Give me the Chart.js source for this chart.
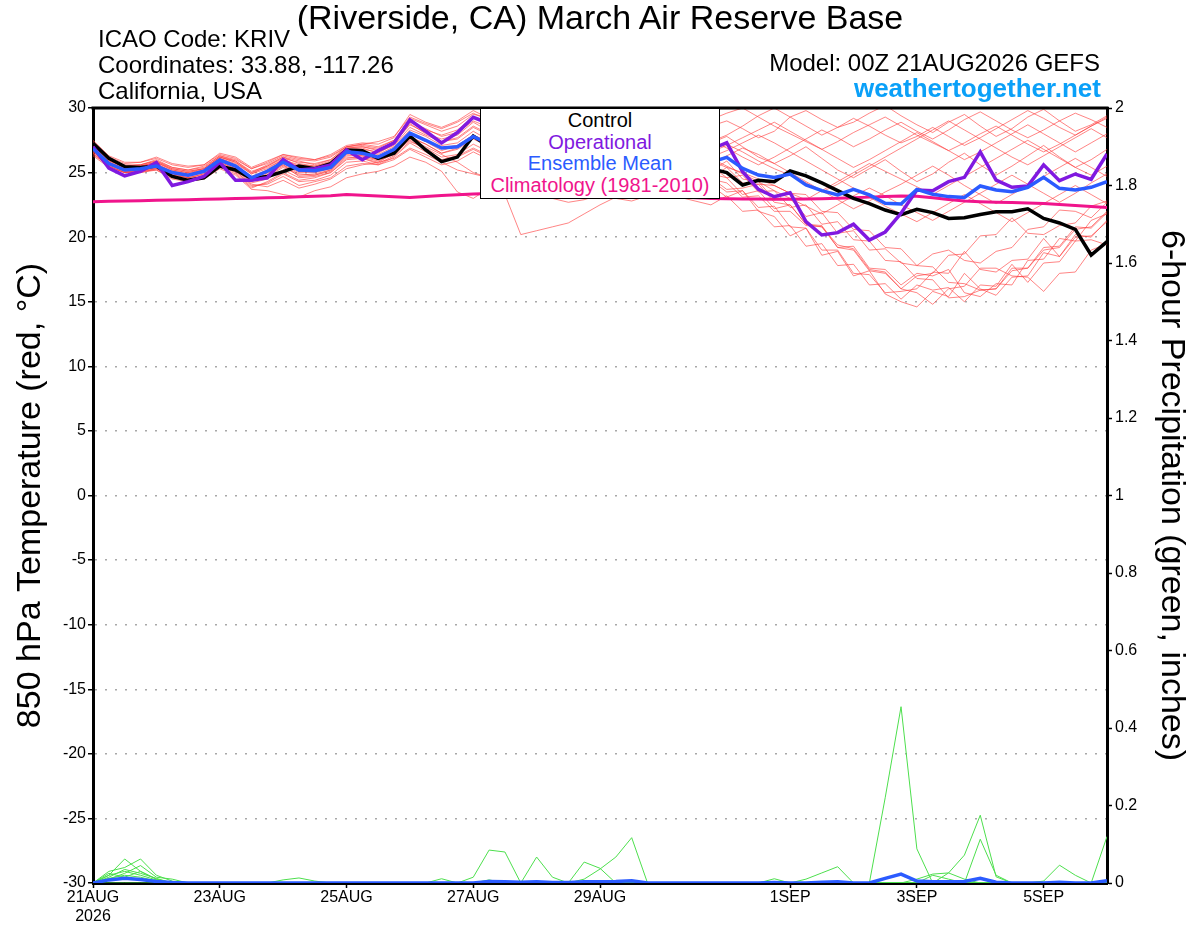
<!DOCTYPE html>
<html>
<head>
<meta charset="utf-8">
<title>KRIV GEFS 850 hPa Temperature</title>
<script src="https://cdn.jsdelivr.net/npm/chart.js@4.4.1/dist/chart.umd.min.js"></script>
<style>
  html, body { margin: 0; padding: 0; background: #fff; }
  #wrap { position: relative; width: 1200px; height: 927px; overflow: hidden;
          font-family: 'Liberation Sans', Arial, Helvetica, sans-serif; }
  #chart { position: absolute; left: 0; top: 0; }
  .txt { position: absolute; white-space: nowrap; color: #000; }
  #title { left: 0; width: 1200px; top: 0; text-align: center; font-size: 34px; line-height: 34px; }
  .info { left: 98px; font-size: 24px; line-height: 24px; }
  .model { right: 100px; font-size: 24px; line-height: 24px; }
  #site { right: 99px; top: 75px; font-size: 26px; line-height: 26px; font-weight: bold; color: #0aa0f8; }
  #legend { position: absolute; left: 480px; top: 108px; width: 240px; height: 91px; box-sizing: border-box;
            border: 1px solid #000; background: #fff; padding-top: 1px; }
  #legend div { font-size: 20px; line-height: 21.5px; text-align: center; white-space: nowrap; }
</style>
</head>
<body>
<div id="wrap">
  <canvas id="chart" width="1200" height="927"></canvas>
  <div class="txt" id="title">(Riverside, CA) March Air Reserve Base</div>
  <div class="txt info" style="top:27px">ICAO Code: KRIV</div>
  <div class="txt info" style="top:53px">Coordinates: 33.88, -117.26</div>
  <div class="txt info" style="top:79px">California, USA</div>
  <div class="txt model" style="top:51px">Model: 00Z 21AUG2026 GEFS</div>
  <div class="txt" id="site">weathertogether.net</div>
  <div id="legend">
    <div style="color:#000000">Control</div>
    <div style="color:#8019e0">Operational</div>
    <div style="color:#2b5bff">Ensemble Mean</div>
    <div style="color:#f0148c">Climatology (1981-2010)</div>
  </div>
</div>
<script>
// Forecast hours (6-hourly, 00Z 21AUG2026 to 00Z 06SEP2026)
const forecastHours = [
    0, 6, 12, 18, 24, 30, 36, 42, 48, 54, 60, 66, 72,
    78, 84, 90, 96, 102, 108, 114, 120, 126, 132, 138, 144, 150,
    156, 162, 168, 174, 180, 186, 192, 198, 204, 210, 216, 222, 228,
    234, 240, 246, 252, 258, 264, 270, 276, 282, 288, 294, 300, 306,
    312, 318, 324, 330, 336, 342, 348, 354, 360, 366, 372, 378, 384
];

// X tick labels
const xTickHours = [0, 48, 96, 144, 192, 264, 312, 360];
const xTickLabels = [['21AUG', '2026'], '23AUG', '25AUG', '27AUG', '29AUG', '1SEP', '3SEP', '5SEP'];

// 850 hPa temperature (C)
const controlTemp = [
    27.27, 26.1, 25.46, 25.4, 25.5, 24.7, 24.4, 24.6, 25.5, 25.2, 24.55, 24.7, 25.07,
    25.5, 25.3, 25.7, 26.75, 26.7, 26.1, 26.5, 27.83, 26.75, 25.85, 26.2, 27.83, 27.0,
    27.4, 26.9, 26.4, 26.0, 26.3, 26.7, 26.2, 25.8, 26.1, 25.7, 25.4, 25.8, 25.5,
    25.3, 25.0, 24.04, 24.4, 24.3, 25.12, 24.74, 24.2, 23.6, 23.0, 22.6, 22.1, 21.75,
    22.16, 21.9, 21.45, 21.5, 21.75, 21.97, 21.97, 22.2, 21.45, 21.1, 20.6, 18.62, 19.65
];
const operationalTemp = [
    27.0, 25.35, 24.75, 25.1, 25.77, 24.0, 24.3, 24.7, 25.8, 24.4, 24.4, 24.6, 26.0,
    25.2, 25.3, 25.6, 26.75, 26.0, 26.7, 27.3, 29.07, 28.2, 27.3, 28.1, 29.28, 28.8,
    28.3, 27.8, 27.4, 27.0, 27.3, 27.6, 27.1, 26.7, 27.0, 26.6, 26.3, 26.7, 26.4,
    26.8, 27.32, 25.07, 23.7, 23.13, 23.44, 21.2, 20.17, 20.35, 21.0, 19.78, 20.4, 21.85,
    23.65, 23.6, 24.3, 24.63, 26.6, 24.42, 23.86, 23.96, 25.6, 24.37, 24.89, 24.48, 26.44
];
const ensembleMeanTemp = [
    26.85, 25.7, 25.2, 25.3, 25.5, 25.0, 24.8, 25.1, 25.97, 25.5, 24.6, 25.1, 25.8,
    25.2, 25.15, 25.4, 26.6, 26.5, 26.2, 26.8, 28.05, 27.5, 26.9, 27.0, 27.8, 27.2,
    27.5, 27.0, 26.8, 26.5, 26.3, 26.6, 26.8, 26.5, 26.2, 26.0, 26.3, 26.1, 25.9,
    25.8, 26.18, 25.33, 24.81, 24.63, 24.89, 24.04, 23.6, 23.27, 23.7, 23.27, 22.62, 22.57,
    23.7, 23.32, 23.14, 23.08, 23.96, 23.65, 23.52, 23.86, 24.63, 23.78, 23.65, 23.86, 24.3
];
const climatologyTemp = [
    22.75, 22.78, 22.8, 22.82, 22.85, 22.88, 22.9, 22.93, 22.96, 22.99, 23.02, 23.05, 23.08,
    23.12, 23.16, 23.2, 23.3, 23.25, 23.18, 23.12, 23.08, 23.15, 23.22, 23.28, 23.34, 23.38,
    23.4, 23.42, 23.42, 23.4, 23.38, 23.35, 23.32, 23.28, 23.24, 23.2, 23.15, 23.1, 23.05,
    23.0, 22.98, 22.96, 22.95, 22.94, 22.94, 22.95, 22.98, 23.02, 23.06, 23.1, 23.14, 23.18,
    23.16, 23.05, 22.92, 22.8, 22.74, 22.7, 22.68, 22.65, 22.6, 22.52, 22.45, 22.38, 22.3
];

// Ensemble members (C)
const member01 = [
    27.1, 25.9, 25.5, 25.6, 25.9, 25.4, 25.2, 25.5, 26.3, 26.0, 25.3, 25.7, 26.3,
    26.0, 25.9, 26.2, 27.0, 27.2, 27.0, 27.5, 29.2, 28.7, 28.2, 28.6, 29.5, 29.3,
    29.6, 29.0, 28.4, 28.8, 29.2, 28.6, 28.0, 28.5, 29.0, 28.3, 27.8, 27.5, 28.1,
    28.6, 29.0, 28.4, 27.7, 28.2, 29.3, 29.8, 29.1, 28.5, 28.9, 29.6, 30.2, 29.4,
    28.7, 28.1, 28.9, 29.5, 28.6, 27.8, 28.4, 29.3, 29.9, 29.0, 28.2, 28.7, 29.4
];
const member02 = [
    26.6, 25.6, 25.1, 25.0, 25.3, 24.7, 24.5, 24.7, 25.6, 25.1, 24.1, 23.9, 24.4,
    23.8, 24.1, 24.5, 25.3, 25.6, 25.8, 26.1, 26.9, 26.4, 25.8, 25.2, 24.9, 24.6,
    23.3, 20.2, 20.5, 20.8, 21.1, 21.8, 22.5, 23.1, 23.6, 24.2, 24.7, 25.1, 24.6,
    24.0, 23.1, 23.6, 22.0, 21.6, 20.1, 20.7, 18.6, 18.9, 17.0, 17.4, 15.6, 15.0,
    14.6, 15.8, 15.4, 17.2, 16.0, 15.5, 16.9, 17.0, 18.8, 18.5, 20.2, 20.0, 21.3
];
const member03 = [
    27.3, 26.1, 25.4, 25.5, 25.8, 25.2, 25.0, 25.3, 26.2, 25.8, 25.0, 25.4, 26.0,
    25.6, 25.5, 25.9, 26.8, 26.9, 26.5, 27.2, 28.8, 28.0, 27.6, 27.9, 28.9, 28.2,
    27.6, 27.0, 26.5, 26.9, 27.3, 26.8, 26.2, 26.7, 27.1, 26.5, 26.0, 26.4, 26.9,
    27.3, 27.8, 27.0, 26.2, 25.7, 26.3, 27.0, 26.1, 25.2, 24.6, 25.3, 26.0, 25.1,
    24.3, 24.9, 25.8, 26.5, 25.6, 24.8, 25.5, 26.3, 27.1, 26.2, 25.4, 26.0, 26.8
];
const member04 = [
    26.4, 25.5, 25.0, 25.1, 25.2, 24.6, 24.4, 24.6, 25.4, 24.9, 23.8, 24.3, 25.0,
    24.4, 24.6, 25.0, 26.0, 26.1, 25.7, 26.3, 27.4, 26.9, 26.2, 26.4, 27.2, 26.6,
    26.0, 25.4, 24.9, 25.3, 25.8, 25.2, 24.7, 24.2, 24.8, 25.3, 24.7, 24.1, 24.6,
    25.1, 25.9, 24.5, 24.3, 22.9, 23.0, 21.6, 21.9, 20.3, 20.5, 19.0, 19.1, 18.0,
    17.8, 18.7, 19.0, 18.2, 18.0, 18.9, 19.2, 20.6, 20.8, 22.1, 22.0, 21.5, 22.7
];
const member05 = [
    27.0, 25.8, 25.3, 25.4, 25.7, 25.1, 24.9, 25.2, 26.1, 25.6, 24.7, 25.2, 25.9,
    25.4, 25.2, 25.6, 26.7, 26.6, 26.4, 27.0, 28.3, 27.8, 27.1, 27.3, 28.2, 27.5,
    27.9, 28.3, 27.7, 27.1, 27.5, 28.0, 27.4, 26.9, 27.3, 27.8, 27.2, 26.7, 27.1,
    27.5, 26.9, 26.2, 25.6, 26.2, 26.9, 27.6, 28.3, 27.7, 27.0, 27.6, 28.3, 28.9,
    28.2, 27.6, 28.3, 29.1, 29.7, 29.0, 28.3, 27.7, 28.3, 29.0, 29.6, 29.1, 28.5
];
const member06 = [
    26.7, 25.6, 25.2, 25.2, 25.4, 24.9, 24.7, 25.0, 25.8, 25.3, 24.3, 24.7, 25.4,
    24.8, 24.9, 25.2, 26.3, 26.3, 26.0, 26.6, 27.8, 27.2, 26.5, 26.8, 27.6, 27.0,
    26.4, 25.8, 26.2, 26.7, 26.1, 25.5, 25.9, 26.4, 25.8, 25.2, 25.6, 26.0, 25.4,
    24.9, 24.6, 23.3, 23.6, 22.2, 22.5, 21.0, 20.9, 19.2, 19.3, 17.6, 17.5, 16.3,
    17.2, 17.0, 17.5, 15.7, 15.4, 16.4, 16.3, 18.2, 18.3, 19.9, 19.7, 21.3, 21.8
];
const member07 = [
    27.4, 26.2, 25.7, 25.8, 26.1, 25.6, 25.4, 25.6, 26.5, 26.2, 25.4, 25.9, 26.4,
    26.2, 26.0, 26.4, 27.1, 27.3, 27.2, 27.7, 29.5, 28.9, 28.5, 29.0, 29.8, 29.2,
    28.6, 29.1, 29.5, 28.9, 28.3, 28.8, 29.3, 28.7, 28.1, 28.6, 29.0, 28.5, 27.9,
    27.4, 27.9, 28.6, 29.4, 30.0, 29.3, 28.6, 27.9, 28.5, 29.2, 28.6, 27.9, 27.3,
    27.8, 28.5, 27.8, 27.1, 27.7, 28.4, 29.1, 29.8, 29.2, 28.5, 27.9, 28.6, 29.3
];
const member08 = [
    26.5, 25.5, 25.0, 25.2, 25.3, 24.8, 24.6, 24.9, 25.7, 25.2, 24.2, 24.5, 25.2,
    24.6, 24.7, 25.0, 26.1, 26.2, 25.9, 26.4, 27.6, 27.0, 26.4, 25.8, 25.0, 24.6,
    24.2, 23.8, 23.4, 23.0, 22.7, 22.9, 23.3, 23.0, 22.8, 23.2, 23.5, 23.1, 22.8,
    22.5, 23.2, 22.0, 22.1, 20.8, 20.9, 19.3, 19.5, 17.8, 17.9, 16.3, 16.4, 15.2,
    16.3, 15.9, 16.1, 15.0, 16.3, 16.2, 17.9, 16.5, 18.0, 18.1, 19.7, 19.8, 19.4
];
const member09 = [
    26.9, 25.8, 25.3, 25.3, 25.6, 25.0, 24.8, 25.1, 26.0, 25.4, 24.5, 25.0, 25.6,
    25.0, 25.0, 25.3, 26.5, 26.4, 26.1, 26.7, 28.0, 27.4, 26.7, 27.1, 27.9, 27.3,
    26.8, 26.3, 26.7, 27.2, 26.6, 26.0, 26.5, 27.0, 26.4, 25.9, 26.3, 26.8, 26.2,
    25.7, 26.3, 26.9, 26.4, 25.7, 25.0, 24.3, 23.6, 22.9, 22.2, 22.8, 23.5, 24.1,
    24.8, 25.5, 24.8, 24.0, 23.3, 22.6, 23.3, 24.0, 24.7, 25.4, 26.1, 25.4, 24.7
];
const member10 = [
    27.2, 26.0, 25.5, 25.6, 25.9, 25.3, 25.1, 25.3, 26.2, 25.9, 25.1, 25.5, 26.1,
    25.8, 25.7, 26.0, 26.9, 27.0, 26.7, 27.4, 29.0, 28.3, 27.9, 28.3, 29.3, 28.8,
    28.2, 27.6, 28.1, 28.5, 27.9, 27.3, 27.8, 28.2, 27.6, 27.0, 27.5, 27.9, 27.3,
    26.8, 27.2, 26.6, 25.9, 25.3, 24.8, 24.2, 23.5, 24.1, 24.8, 25.5, 26.2, 26.9,
    27.6, 28.3, 29.0, 28.3, 27.6, 26.9, 26.2, 25.6, 26.3, 27.0, 27.7, 28.4, 27.7
];
const member11 = [
    26.3, 25.4, 25.0, 25.0, 25.2, 24.5, 24.3, 24.5, 25.3, 24.8, 23.7, 23.6, 23.3,
    23.1, 23.6, 23.9, 24.6, 24.9, 25.1, 25.5, 26.2, 25.8, 25.1, 23.5, 23.0, 23.8,
    24.5, 25.1, 24.6, 24.1, 24.6, 25.0, 24.5, 23.9, 24.3, 24.8, 24.2, 23.7, 24.1,
    24.6, 25.4, 24.2, 24.1, 22.7, 22.5, 21.0, 20.8, 19.2, 19.0, 17.4, 17.2, 16.0,
    17.0, 17.2, 18.6, 18.7, 20.1, 20.2, 21.5, 20.3, 20.2, 20.9, 21.1, 22.4, 22.8
];
const member12 = [
    27.0, 25.9, 25.4, 25.5, 25.8, 25.2, 25.0, 25.2, 26.1, 25.7, 24.9, 25.3, 26.0,
    25.5, 25.4, 25.7, 26.8, 26.8, 26.6, 27.1, 28.5, 27.9, 27.4, 27.6, 28.5, 27.9,
    27.3, 26.7, 27.1, 27.6, 27.0, 26.5, 26.0, 26.4, 26.9, 26.3, 25.7, 26.2, 26.6,
    26.1, 25.5, 24.9, 24.3, 23.6, 23.0, 22.4, 21.8, 22.5, 23.2, 23.8, 23.2, 22.5,
    21.9, 21.3, 22.0, 22.7, 23.4, 24.1, 24.8, 24.1, 23.4, 22.7, 23.4, 24.2, 24.9
];
const member13 = [
    26.6, 25.7, 25.1, 25.2, 25.4, 24.9, 24.6, 24.8, 25.6, 25.1, 24.0, 24.1, 24.7,
    24.0, 24.3, 24.6, 25.5, 25.7, 25.6, 26.0, 26.8, 26.2, 25.6, 25.9, 26.6, 26.0,
    25.4, 24.9, 25.4, 25.9, 25.3, 24.8, 25.2, 25.7, 25.1, 24.6, 25.0, 25.5, 24.9,
    24.4, 23.5, 23.6, 22.3, 22.4, 20.8, 20.7, 19.0, 19.0, 17.2, 17.1, 15.7, 15.8,
    16.0, 17.3, 17.2, 18.9, 17.5, 17.3, 18.2, 18.3, 19.9, 18.5, 20.0, 20.1, 21.2
];
const member14 = [
    27.1, 26.0, 25.5, 25.5, 25.8, 25.3, 25.1, 25.3, 26.2, 25.8, 24.9, 25.5, 26.2,
    25.9, 25.6, 26.0, 27.0, 27.1, 26.9, 27.5, 28.9, 28.4, 27.8, 28.1, 29.0, 28.5,
    27.9, 28.4, 28.9, 28.3, 27.7, 28.2, 28.6, 28.0, 27.4, 27.9, 28.3, 27.7, 27.1,
    26.6, 27.1, 27.7, 28.3, 28.9, 28.2, 27.5, 26.8, 26.1, 25.4, 26.0, 26.7, 27.4,
    28.1, 27.4, 26.7, 26.0, 26.6, 27.3, 28.0, 28.7, 28.0, 27.3, 26.6, 27.3, 28.0
];
const member15 = [
    26.8, 25.7, 25.2, 25.3, 25.5, 25.0, 24.8, 25.0, 25.9, 25.4, 24.4, 24.8, 25.5,
    24.9, 24.8, 25.1, 26.2, 26.1, 25.8, 26.5, 27.5, 26.8, 26.0, 26.3, 26.9, 26.3,
    25.7, 25.1, 25.5, 26.0, 25.4, 24.9, 25.3, 25.8, 25.2, 24.7, 25.1, 25.6, 25.0,
    24.5, 24.2, 23.1, 23.2, 22.0, 22.0, 20.9, 20.8, 19.4, 19.1, 17.5, 17.3, 16.0,
    15.7, 14.8, 16.0, 16.2, 17.6, 17.6, 17.0, 16.9, 15.8, 17.2, 17.3, 19.0, 19.5
];
const member16 = [
    27.5, 26.3, 25.8, 25.8, 26.2, 25.7, 25.5, 25.6, 26.4, 26.1, 25.3, 25.8, 26.4,
    26.1, 26.0, 26.3, 27.0, 27.2, 27.4, 27.8, 29.3, 28.8, 28.4, 28.9, 29.6, 29.0,
    29.4, 29.8, 29.2, 28.7, 29.1, 29.6, 29.0, 28.5, 28.9, 29.4, 28.8, 28.3, 28.7,
    29.1, 29.6, 30.0, 29.3, 28.6, 28.0, 27.4, 26.8, 27.4, 28.1, 28.7, 29.3, 28.6,
    27.9, 27.3, 26.7, 27.3, 28.0, 28.6, 27.9, 27.2, 26.6, 27.2, 27.9, 28.6, 29.2
];
const member17 = [
    26.5, 25.5, 25.0, 25.1, 25.3, 24.7, 24.5, 24.7, 25.5, 25.0, 23.9, 24.2, 24.9,
    24.3, 24.4, 24.8, 25.8, 25.9, 25.6, 26.2, 27.3, 26.6, 25.9, 26.2, 26.8, 26.2,
    25.6, 25.1, 25.6, 26.0, 25.5, 25.0, 25.4, 25.9, 25.3, 24.8, 25.2, 25.7, 25.1,
    24.6, 23.7, 23.8, 24.1, 24.0, 23.4, 23.3, 22.0, 21.9, 20.6, 20.5, 19.2, 19.1,
    17.8, 17.7, 16.5, 16.4, 15.9, 16.0, 17.4, 17.6, 19.0, 19.2, 20.6, 20.8, 22.0
];
const member18 = [
    26.9, 25.8, 25.3, 25.4, 25.6, 25.1, 24.9, 25.1, 26.0, 25.5, 24.6, 25.0, 25.7,
    25.1, 25.1, 25.4, 26.5, 26.5, 26.2, 26.8, 28.1, 27.5, 26.9, 27.1, 27.9, 27.4,
    26.9, 27.4, 27.9, 27.3, 26.8, 27.2, 27.7, 27.1, 26.6, 27.0, 27.5, 26.9, 26.4,
    25.9, 25.4, 25.0, 24.5, 24.0, 23.4, 22.9, 23.6, 24.3, 25.0, 25.7, 25.1, 24.5,
    23.9, 23.3, 24.0, 24.7, 25.4, 26.1, 26.8, 27.5, 26.8, 26.1, 25.4, 24.8, 25.5
];
const member19 = [
    27.3, 26.1, 25.6, 25.6, 26.0, 25.4, 25.2, 25.4, 26.3, 25.9, 25.0, 25.6, 26.2,
    25.7, 25.5, 25.8, 26.9, 27.0, 26.8, 27.3, 28.7, 28.1, 27.4, 27.7, 28.6, 28.0,
    27.4, 26.9, 27.3, 27.8, 27.2, 26.6, 27.0, 27.5, 26.9, 26.4, 26.8, 27.3, 26.7,
    26.2, 26.7, 27.3, 27.9, 27.3, 26.6, 25.9, 25.2, 24.5, 23.8, 23.1, 22.4, 21.8,
    21.2, 21.9, 22.6, 23.3, 22.6, 21.9, 21.2, 21.9, 22.6, 23.3, 24.0, 23.3, 22.6
];
const member20 = [
    26.7, 25.6, 25.1, 25.2, 25.4, 24.8, 24.6, 24.9, 25.8, 25.3, 24.4, 24.9, 25.6,
    24.7, 24.8, 25.2, 26.4, 26.3, 26.0, 26.6, 27.7, 27.2, 26.5, 26.9, 27.8, 27.1,
    26.5, 26.0, 26.4, 26.9, 26.3, 25.8, 25.3, 25.7, 26.2, 25.6, 25.1, 25.5, 26.0,
    25.5, 24.6, 24.8, 23.5, 23.6, 22.3, 22.5, 21.0, 21.2, 19.8, 19.7, 18.2, 18.1,
    16.8, 16.7, 15.3, 15.4, 15.9, 16.0, 17.6, 17.6, 19.2, 19.3, 20.8, 20.7, 21.9
];

// 6-hour precipitation (inches)
const ensembleMeanPrecip = [
    0, 0.008, 0.012, 0.009, 0.004, 0.001, 0, 0, 0, 0, 0, 0, 0,
    0, 0, 0, 0, 0, 0, 0, 0, 0, 0, 0, 0, 0.004,
    0.003, 0.002, 0.003, 0.001, 0.001, 0.003, 0.003, 0.004, 0.006, 0, 0, 0, 0,
    0, 0, 0, 0, 0.001, 0, 0, 0.002, 0.003, 0, 0, 0.012, 0.023,
    0.005, 0.003, 0.003, 0.004, 0.012, 0.002, 0, 0, 0, 0.002, 0, 0, 0.006
];
const precip01 = [
    0, 0.02, 0.062, 0.03, 0.01, 0, 0, 0, 0, 0, 0, 0, 0,
    0, 0, 0, 0, 0, 0, 0, 0, 0, 0, 0, 0, 0,
    0, 0, 0, 0, 0, 0, 0, 0, 0, 0, 0, 0, 0,
    0, 0, 0, 0, 0, 0, 0, 0, 0, 0, 0, 0.22, 0.455,
    0.088, 0, 0, 0, 0, 0, 0, 0, 0, 0, 0, 0, 0
];
const precip02 = [
    0, 0.03, 0.04, 0.062, 0.02, 0.005, 0, 0, 0, 0, 0, 0, 0,
    0, 0, 0, 0, 0, 0, 0, 0, 0, 0, 0, 0, 0,
    0, 0, 0, 0, 0, 0, 0, 0, 0, 0, 0, 0, 0,
    0, 0, 0, 0, 0, 0, 0, 0, 0, 0, 0, 0, 0,
    0, 0, 0.026, 0.072, 0.175, 0.016, 0, 0, 0, 0, 0, 0, 0
];
const precip03 = [
    0, 0.015, 0.035, 0.025, 0.012, 0, 0, 0, 0, 0, 0, 0, 0,
    0, 0, 0, 0, 0, 0, 0, 0, 0, 0, 0, 0, 0,
    0, 0, 0, 0, 0, 0, 0, 0, 0, 0, 0, 0, 0,
    0, 0, 0, 0, 0, 0, 0, 0, 0, 0, 0, 0, 0,
    0, 0.02, 0.01, 0, 0.113, 0.02, 0, 0, 0, 0, 0, 0, 0
];
const precip04 = [
    0, 0.01, 0.025, 0.045, 0.015, 0.01, 0, 0, 0, 0, 0, 0, 0,
    0, 0, 0, 0, 0, 0, 0, 0, 0, 0, 0, 0.015, 0.085,
    0.08, 0, 0, 0, 0, 0, 0, 0, 0, 0, 0, 0, 0,
    0, 0, 0, 0, 0.011, 0, 0.01, 0.026, 0.042, 0, 0, 0, 0,
    0, 0, 0, 0, 0, 0, 0, 0, 0, 0, 0, 0, 0
];
const precip05 = [
    0, 0.02, 0.03, 0.02, 0.008, 0, 0, 0, 0, 0, 0, 0, 0,
    0, 0, 0, 0, 0, 0, 0, 0, 0, 0, 0, 0, 0,
    0, 0, 0.067, 0.015, 0, 0.054, 0.038, 0, 0, 0, 0, 0, 0,
    0, 0, 0, 0, 0, 0, 0, 0, 0, 0, 0, 0, 0,
    0, 0, 0, 0, 0, 0, 0, 0, 0.005, 0.046, 0.02, 0, 0
];
const precip06 = [
    0, 0, 0, 0, 0, 0, 0, 0, 0, 0, 0, 0, 0.008,
    0.013, 0.005, 0, 0, 0, 0, 0, 0, 0, 0, 0, 0, 0,
    0, 0, 0, 0, 0, 0.01, 0.036, 0.067, 0.117, 0, 0, 0, 0,
    0, 0, 0, 0, 0, 0, 0, 0, 0, 0, 0, 0, 0,
    0, 0, 0, 0, 0, 0, 0, 0, 0, 0, 0, 0, 0.12
];
const precip07 = [
    0, 0.012, 0.02, 0.015, 0.005, 0, 0, 0, 0, 0, 0, 0, 0,
    0, 0, 0, 0, 0, 0, 0, 0, 0, 0.011, 0, 0, 0,
    0, 0, 0, 0, 0, 0, 0, 0, 0, 0, 0, 0, 0,
    0, 0, 0, 0, 0, 0, 0, 0, 0, 0, 0, 0, 0,
    0.01, 0.023, 0.026, 0.01, 0, 0, 0, 0, 0, 0, 0, 0, 0
];
const precip08 = [
    0, 0.025, 0.015, 0.03, 0.01, 0, 0, 0, 0, 0, 0, 0, 0,
    0, 0, 0, 0, 0, 0, 0, 0, 0, 0, 0, 0, 0.008,
    0, 0, 0, 0, 0, 0, 0, 0, 0, 0, 0, 0, 0,
    0, 0, 0, 0, 0, 0, 0, 0, 0, 0, 0, 0, 0,
    0, 0, 0, 0, 0, 0, 0, 0, 0, 0, 0, 0, 0
];

const memberTemps = [member01, member02, member03, member04, member05, member06, member07,
    member08, member09, member10, member11, member12, member13, member14, member15,
    member16, member17, member18, member19, member20];
const memberPrecips = [precip01, precip02, precip03, precip04, precip05, precip06, precip07, precip08];

// Colors
const controlColor = '#000000';
const operationalColor = '#8019e0';
const meanColor = '#2b5bff';
const climoColor = '#f0148c';
const memberColor = 'rgba(255, 60, 60, 0.7)';
const precipColor = '#4ddf4d';

Chart.defaults.font.family = "'Liberation Sans', Arial, Helvetica, sans-serif";
Chart.defaults.color = '#000';

// Build datasets (lower order = drawn on top)
const datasets = [
    { label: 'Ensemble Mean', data: ensembleMeanTemp, borderColor: meanColor, borderWidth: 3.5, yAxisID: 'y', order: 0 },
    { label: 'Operational', data: operationalTemp, borderColor: operationalColor, borderWidth: 3.5, yAxisID: 'y', order: 1 },
    { label: 'Control', data: controlTemp, borderColor: controlColor, borderWidth: 3.5, yAxisID: 'y', order: 2 },
    { label: 'Climatology (1981-2010)', data: climatologyTemp, borderColor: climoColor, borderWidth: 3, yAxisID: 'y', order: 3 },
    { label: 'Ensemble Mean Precip', data: ensembleMeanPrecip, borderColor: meanColor, borderWidth: 3.5, yAxisID: 'y1', order: 4 }
];
memberPrecips.forEach((p, i) => {
    datasets.push({ label: 'Precip member ' + (i + 1), data: p, borderColor: precipColor, borderWidth: 1, yAxisID: 'y1', order: 5 });
});
memberTemps.forEach((m, i) => {
    datasets.push({ label: 'Member ' + (i + 1), data: m, borderColor: memberColor, borderWidth: 0.9, yAxisID: 'y', order: 6 });
});

// Top frame line
const frameTop = {
    id: 'frameTop',
    afterDatasetsDraw(chart) {
        const { ctx, chartArea } = chart;
        ctx.save();
        ctx.strokeStyle = '#000';
        ctx.lineWidth = 3;
        ctx.beginPath();
        ctx.moveTo(chartArea.left - 1.5, chartArea.top);
        ctx.lineTo(chartArea.right + 1.5, chartArea.top);
        ctx.stroke();
        ctx.restore();
    }
};

const tickFont = { size: 16 };

new Chart(document.getElementById('chart'), {
    type: 'line',
    data: { labels: forecastHours, datasets: datasets },
    options: {
        responsive: false,
        animation: false,
        events: [],
        layout: { padding: { top: 108, left: 0, right: 0, bottom: 0 } },
        elements: { point: { radius: 0 }, line: { tension: 0 } },
        plugins: { legend: { display: false }, tooltip: { enabled: false } },
        scales: {
            x: {
                type: 'linear',
                min: 0,
                max: 384,
                afterBuildTicks: s => { s.ticks = xTickHours.map(v => ({ value: v })); },
                afterFit: s => { s.height = 44; },
                grid: { drawOnChartArea: false, tickLength: 5, tickColor: '#000', tickWidth: 1.5 },
                border: { color: '#000', width: 3 },
                ticks: {
                    autoSkip: false, maxRotation: 0, padding: 0, font: tickFont,
                    callback: (v, i) => xTickLabels[i]
                }
            },
            y: {
                position: 'left',
                min: -30,
                max: 30,
                afterFit: s => { s.width = 93; },
                ticks: { stepSize: 5, padding: 2, font: tickFont },
                grid: { color: '#a8a8a8', lineWidth: 1.5, tickLength: 5, tickColor: '#000', tickWidth: 1.5 },
                border: { color: '#000', width: 3, dash: [2, 8] },
                title: {
                    display: true, text: '850 hPa Temperature (red, °C)',
                    font: { size: 34 }, padding: { top: 10, bottom: 0 }
                }
            },
            y1: {
                position: 'right',
                min: 0,
                max: 2,
                afterFit: s => { s.width = 93; },
                ticks: {
                    stepSize: 0.2, padding: 3, font: tickFont,
                    callback: v => String(Math.round(v * 10) / 10)
                },
                grid: { drawOnChartArea: false, tickLength: 5, tickColor: '#000', tickWidth: 1.5 },
                border: { color: '#000', width: 3 },
                title: {
                    display: true, text: '6-hour Precipitation (green, inches)',
                    font: { size: 34 }, padding: { top: 8, bottom: 0 }
                }
            }
        }
    },
    plugins: [frameTop]
});
</script>
</body>
</html>
